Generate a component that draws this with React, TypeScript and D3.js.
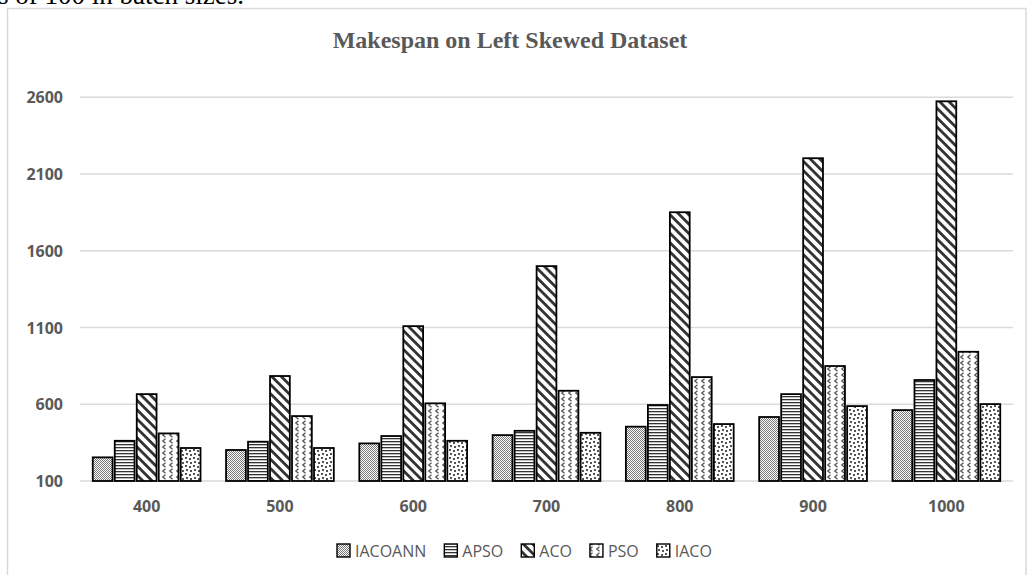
import React, { useEffect, useRef } from "react";
import * as d3 from "d3";

const categories = ["400", "500", "600", "700", "800", "900", "1000"];
const seriesNames = ["IACOANN", "APSO", "ACO", "PSO", "IACO"];
const iacoann = [254, 302, 345, 399, 454, 517, 562];
const apso = [362, 356, 393, 427, 595, 666, 758];
const aco = [666, 784, 1109, 1500, 1851, 2203, 2574];
const pso = [410, 523, 606, 688, 777, 849, 942];
const iaco = [315, 315, 362, 414, 471, 588, 601];
const yTicks = [100, 600, 1100, 1600, 2100, 2600];
const titleText = "Makespan on Left Skewed Dataset";
const captionText = "s of 100 in batch sizes.";

export default function App() {
  const ref = useRef<SVGSVGElement>(null);

  useEffect(() => {
    const svg = d3.select(ref.current);
    svg.selectAll("*").remove();
    const W = 1027;
    const H = 575;
    const left = 80;
    const right = 1013;
    const top = 97.3;
    const bottom = 481;
    const grey = "#595959";
    const seriesValues = [iacoann, apso, aco, pso, iaco];

    svg.append("rect").attr("width", W).attr("height", H).attr("fill", "#fff");

    const defs = svg.append("defs");
    // IACOANN: fine checker
    const p0 = defs.append("pattern").attr("id", "p0").attr("patternUnits", "userSpaceOnUse").attr("width", 2).attr("height", 2);
    p0.append("rect").attr("width", 2).attr("height", 2).attr("fill", "#fff");
    p0.append("rect").attr("width", 1).attr("height", 1).attr("fill", "#777");
    p0.append("rect").attr("x", 1).attr("y", 1).attr("width", 1).attr("height", 1).attr("fill", "#777");
    // APSO: horizontal lines
    const p1 = defs.append("pattern").attr("id", "p1").attr("patternUnits", "userSpaceOnUse").attr("width", 4).attr("height", 3);
    p1.append("rect").attr("width", 4).attr("height", 3).attr("fill", "#fff");
    p1.append("rect").attr("width", 4).attr("height", 1.3).attr("fill", "#333");
    // ACO: wide downward diagonal
    const p2 = defs.append("pattern").attr("id", "p2").attr("patternUnits", "userSpaceOnUse").attr("width", 8).attr("height", 6.6).attr("patternTransform", "rotate(45)");
    p2.append("rect").attr("width", 8).attr("height", 6.6).attr("fill", "#fff");
    p2.append("rect").attr("width", 8).attr("height", 2.8).attr("fill", "#333");
    // PSO: small waves
    const p3 = defs.append("pattern").attr("id", "p3").attr("patternUnits", "userSpaceOnUse").attr("width", 7).attr("height", 6);
    p3.append("rect").attr("width", 7).attr("height", 6).attr("fill", "#fff");
    p3.append("path").attr("d", "M4.5,0.8 L1.8,3 L4.5,5.2").attr("fill", "none").attr("stroke", "#555").attr("stroke-width", 1.3);
    // IACO: confetti
    const p4 = defs.append("pattern").attr("id", "p4").attr("patternUnits", "userSpaceOnUse").attr("width", 8).attr("height", 8);
    p4.append("rect").attr("width", 8).attr("height", 8).attr("fill", "#fff");
    [[1, 1], [5, 2], [2, 5], [6, 6]].forEach(([x, y]) =>
      p4.append("rect").attr("x", x).attr("y", y).attr("width", 2).attr("height", 2).attr("fill", "#555")
    );
    const fills = ["url(#p0)", "url(#p1)", "url(#p2)", "url(#p3)", "url(#p4)"];

    // frame
    svg.append("rect").attr("x", 7.5).attr("y", 8.5).attr("width", 1018.5).attr("height", 620)
      .attr("fill", "none").attr("stroke", "#d9d9d9").attr("stroke-width", 1.5);

    // clipped caption at top (as in the reference)
    svg.append("text").attr("x", -2).attr("y", 4).attr("font-family", "'Liberation Serif', 'Times New Roman', serif")
      .attr("font-size", 27).attr("fill", "#000").text(captionText);

    // title
    svg.append("text").attr("x", 510).attr("y", 48).attr("text-anchor", "middle")
      .attr("font-family", "'Liberation Serif', 'Times New Roman', serif").attr("font-weight", "bold")
      .attr("font-size", 24).attr("fill", grey).text(titleText);

    const x0 = d3.scaleBand<string>().domain(categories).range([left, right]).paddingInner(0.175).paddingOuter(0.0875);
    const x1 = d3.scaleBand<string>().domain(seriesNames).range([0, x0.bandwidth()]).paddingInner(0.1).paddingOuter(0.05);
    const y = d3.scaleLinear().domain([100, 2600]).range([bottom, top]);

    // gridlines
    svg.append("g").selectAll("line").data(yTicks).join("line")
      .attr("x1", left).attr("x2", right)
      .attr("y1", (d) => y(d)).attr("y2", (d) => y(d))
      .attr("stroke", "#d9d9d9").attr("stroke-width", 1.5);

    // y labels
    svg.append("g").selectAll("text").data(yTicks).join("text")
      .attr("x", 63).attr("y", (d) => y(d) + 6).attr("text-anchor", "end")
      .attr("font-family", "'Open Sans', sans-serif").attr("font-weight", "bold").attr("font-size", 16)
      .attr("fill", grey).text((d) => String(d));

    // x labels
    svg.append("g").selectAll("text").data(categories).join("text")
      .attr("x", (d) => (x0(d) as number) + x0.bandwidth() / 2).attr("y", 512).attr("text-anchor", "middle")
      .attr("font-family", "'Open Sans', sans-serif").attr("font-weight", "bold").attr("font-size", 16)
      .attr("fill", grey).text((d) => d);

    // bars
    const g = svg.append("g");
    seriesNames.forEach((s, si) => {
      g.append("g").selectAll("rect").data(seriesValues[si]).join("rect")
        .attr("x", (_, i) => (x0(categories[i]) as number) + (x1(s) as number))
        .attr("y", (d) => y(d))
        .attr("width", x1.bandwidth())
        .attr("height", (d) => y(100) - y(d))
        .attr("fill", fills[si])
        .attr("stroke", "#000").attr("stroke-width", 1.8);
    });

    // legend
    const lg = svg.append("g");
    let lx = 337;
    seriesNames.forEach((s, si) => {
      lg.append("rect").attr("x", lx).attr("y", 544).attr("width", 13).attr("height", 13)
        .attr("fill", fills[si]).attr("stroke", "#000").attr("stroke-width", 1.4);
      const t = lg.append("text").attr("x", lx + 18).attr("y", 557)
        .attr("font-family", "'Open Sans', sans-serif").attr("font-size", 16)
        .attr("fill", grey).text(s);
      const w = (t.node() as SVGTextElement).getComputedTextLength();
      lx += 18 + w + 18;
    });
  }, []);

  return (
    <svg
      ref={ref}
      width={1027}
      height={575}
      style={{ position: "absolute", left: 0, top: 0, display: "block" }}
    />
  );
}
